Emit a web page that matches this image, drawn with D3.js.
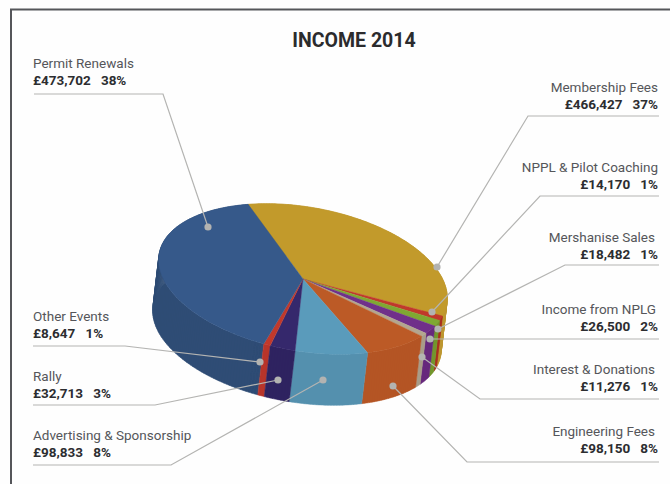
<!DOCTYPE html>
<html>
<head>
<meta charset="utf-8">
<script src="https://cdn.jsdelivr.net/npm/d3@7/dist/d3.min.js"></script>
<style>
html, body { margin: 0; padding: 0; background: #fefefe; }
svg { display: block; }
.name { font-family: Roboto, sans-serif; font-size: 13.5px; fill: #55565a; }
.amount { font-family: Roboto, sans-serif; font-size: 13.5px; font-weight: 700; fill: #2c2d30; }
.title { font-family: Roboto, sans-serif; font-size: 19.5px; font-weight: 700; fill: #2b2b2d; }
</style>
</head>
<body>
<svg id="chart" width="670" height="484"></svg>
<script>
// Income categories, clockwise from the top of the pie.
const categories = ["Membership Fees", "NPPL & Pilot Coaching", "Mershanise Sales", "Income from NPLG",
  "Interest & Donations", "Engineering Fees", "Advertising & Sponsorship", "Rally", "Other Events", "Permit Renewals"];
const amounts = [466427, 14170, 18482, 26500, 11276, 98150, 98833, 32713, 8647, 473702];
const percents = [37, 1, 1, 2, 1, 8, 8, 3, 1, 38];
const topColors = ["#c29a2b", "#c0392b", "#7fa832", "#70308a", "#b3a68f", "#bc5a26", "#5a9bbb", "#35286c", "#c1392b", "#36598a"];
const wallColors = ["#bd9630", "#a8301f", "#72962c", "#66297c", "#a89c88", "#b45524", "#5490ae", "#2e2360", "#b8352a", "#2f4c75"];

// Label block anchors and leader routes, in slice order.
const labelSpots = [
  { side: "right", y: 92, inset: 0 }, { side: "right", y: 172, inset: 0 }, { side: "right", y: 242, inset: 3 },
  { side: "right", y: 314, inset: 2 }, { side: "right", y: 374, inset: 3 }, { side: "right", y: 436, inset: 3 },
  { side: "left", y: 440, inset: 0 }, { side: "left", y: 381, inset: 0 }, { side: "left", y: 321, inset: 0 },
  { side: "left", y: 68, inset: 0 }
];
const leaderRoutes = [
  [[659, 116], [528, 116], [437, 267]], [[659, 196], [540, 196], [432, 312]], [[659, 265], [565, 265], [438, 329]],
  [[659, 339], [430, 339]], [[659, 399], [480, 399], [422, 357]], [[659, 462], [467, 462], [393, 386]],
  [[33, 465], [171, 465], [323, 380]], [[33, 405], [155, 405], [278, 380]], [[33, 346], [125, 346], [260, 362]],
  [[34, 94], [163, 94], [208, 227]]
];

const svg = d3.select("#chart");
const money = d3.format(",");
const deg = Math.PI / 180;

// Page frame open towards the right and the bottom.
svg.append("path").attr("d", "M11,484V9.5H670").attr("fill", "none").attr("stroke", "#55565a").attr("stroke-width", 2);

svg.append("text").attr("class", "title").attr("x", 354).attr("y", 47).attr("text-anchor", "middle").text("INCOME 2014");

// Tilted ellipse that stands in for the pie's perspective.
const cx = 303, cy = 279, rx = 146, ry = 72, tilt = 10 * deg;
const dropX = -6, dropY = 51;
const startAngle = -118 * deg;

const slices = d3.pie().sort(null).value(d => d)
  .startAngle(startAngle).endAngle(startAngle + 2 * Math.PI)(amounts);

// Slices nearer the viewer read slightly larger, so their edges slide round the rim.
const foreshorten = a => a - 3 * deg - 4 * deg * Math.cos(a - 40 * deg);

// Angle 0 points along the long axis; angles grow clockwise on screen.
function rimPoint(a, dx = 0, dy = 0) {
  const w = foreshorten(a);
  const u = rx * Math.cos(w), v = ry * Math.sin(w);
  return [cx + dx + u * Math.cos(tilt) - v * Math.sin(tilt), cy + dy + u * Math.sin(tilt) + v * Math.cos(tilt)];
}
function arcSamples(a0, a1, dx, dy) {
  const n = Math.max(2, Math.ceil((a1 - a0) / 0.02));
  return d3.range(n + 1).map(i => rimPoint(a0 + (a1 - a0) * i / n, dx, dy));
}
const outline = d3.line();

// Each wall is a strip of small quads between the upper rim and the dropped rim.
function wallPath(s) {
  const upper = arcSamples(s.startAngle, s.endAngle, 0, 0);
  const lower = arcSamples(s.startAngle, s.endAngle, dropX, dropY);
  return d3.range(upper.length - 1)
    .map(i => outline([upper[i], upper[i + 1], lower[i + 1], lower[i]]) + "Z").join("");
}

// Outer walls first, back to front, then the upper face.
const wallOrder = d3.range(slices.length).sort((a, b) =>
  Math.sin((slices[a].startAngle + slices[a].endAngle) / 2) - Math.sin((slices[b].startAngle + slices[b].endAngle) / 2));
svg.append("g").selectAll("path").data(wallOrder).join("path")
  .attr("d", i => wallPath(slices[i]))
  .attr("fill", i => wallColors[i]).attr("stroke", i => wallColors[i]).attr("stroke-width", 0.5);

svg.append("g").selectAll("path").data(slices).join("path")
  .attr("d", s => outline([[cx, cy]].concat(arcSamples(s.startAngle, s.endAngle, 0, 0))) + "Z")
  .attr("fill", (s, i) => topColors[i]).attr("stroke", (s, i) => topColors[i]).attr("stroke-width", 0.4);

// Leader lines with their end dots.
svg.append("g").selectAll("path").data(leaderRoutes).join("path")
  .attr("d", d3.line()).attr("fill", "none").attr("stroke", "#b4b4b2").attr("stroke-width", 1.2);
svg.append("g").selectAll("circle").data(leaderRoutes).join("circle")
  .attr("cx", r => r[r.length - 1][0]).attr("cy", r => r[r.length - 1][1]).attr("r", 3.6).attr("fill", "#b3b3b1");

// Two-line labels: name above, amount and share below.
const labels = svg.append("g").selectAll("g").data(categories).join("g");
labels.append("text").attr("class", "name")
  .attr("x", (d, i) => labelSpots[i].side === "left" ? 33 : 658 - labelSpots[i].inset)
  .attr("y", (d, i) => labelSpots[i].y)
  .attr("text-anchor", (d, i) => labelSpots[i].side === "left" ? "start" : "end")
  .text(d => d);
labels.append("text").attr("class", "amount")
  .attr("x", (d, i) => labelSpots[i].side === "left" ? 33 : 658)
  .attr("y", (d, i) => labelSpots[i].y + 17)
  .attr("text-anchor", (d, i) => labelSpots[i].side === "left" ? "start" : "end")
  .text((d, i) => "£" + money(amounts[i]) + "\u00a0\u00a0\u00a0" + percents[i] + "%");
</script>
</body>
</html>
